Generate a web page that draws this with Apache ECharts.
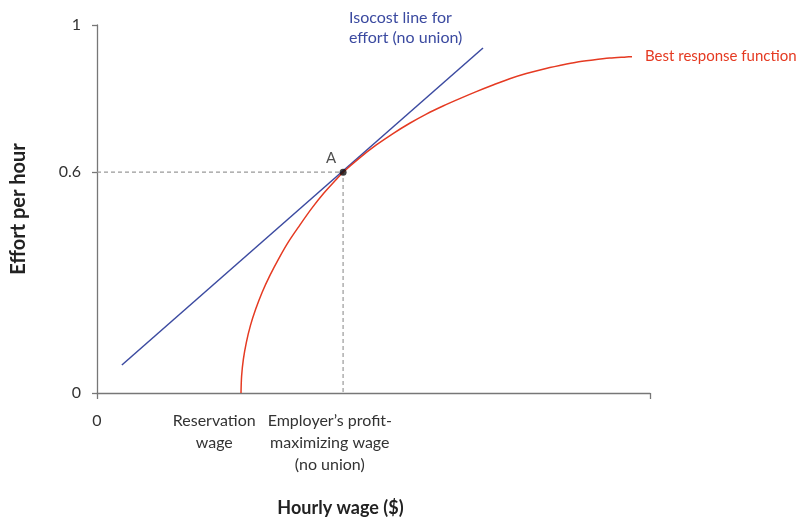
<!DOCTYPE html>
<html>
<head>
<meta charset="utf-8">
<script src="https://cdn.jsdelivr.net/npm/echarts@6/dist/echarts.min.js"></script>
<style>
  html, body { margin: 0; padding: 0; background: #fff; }
  #chart { width: 810px; height: 532px; }
</style>
</head>
<body>
<div id="chart"></div>
<script>
// values (wage scaled 0-100, effort 0-1)
var bestResponse = [
  [26.04, 0], [26.15, 0.046], [26.47, 0.092], [27.0, 0.137], [27.74, 0.183],
  [28.7, 0.228], [29.87, 0.274], [31.25, 0.319], [32.82, 0.364], [34.59, 0.41],
  [36.62, 0.455], [38.79, 0.501], [40.96, 0.542], [43.13, 0.578], [44.5, 0.6],
  [47.5, 0.639], [50.51, 0.674], [53.53, 0.705], [56.55, 0.733], [59.55, 0.758],
  [62.57, 0.78], [65.59, 0.8], [68.59, 0.819], [71.61, 0.837], [74.63, 0.854],
  [77.63, 0.868], [80.65, 0.88], [83.67, 0.89], [86.67, 0.899], [89.69, 0.905],
  [92.71, 0.91], [95.71, 0.913], [96.75, 0.914]
];
var isocost = [[4.5, 0.076], [69.8, 0.9375]];
var pointA = [44.5, 0.6];
var guide = [[0, 0.6], [44.5, 0.6], [44.5, 0]];

var xTickValues = [0, 100];
var xLabelValues = [0, 21.2, 42.1];
var xLabelTexts = ['0', 'Reservation\nwage', 'Employer\u2019s profit-\nmaximizing wage\n(no union)'];
var yTickValues = [0, 0.6, 1];
var yLabelTexts = ['0', '0.6', '1'];

var font = 'Lato, "Noto Sans", sans-serif';
var blue = '#3b4aa0';
var red = '#e53a22';

var myChart = echarts.init(document.getElementById('chart'));
var option = {
  animation: false,
  textStyle: { fontFamily: font },
  grid: { left: 97, right: 160, top: 25, bottom: 139 },
  xAxis: {
    type: 'value',
    min: 0,
    max: 100,
    name: 'Hourly wage ($)',
    nameLocation: 'middle',
    nameGap: 106,
    nameTextStyle: { fontFamily: font, fontSize: 18, fontWeight: 'bold', color: '#222', padding: [0, 66, 0, 0] },
    axisLine: { lineStyle: { color: '#777', width: 1.3 } },
    axisTick: { show: true, customValues: xTickValues, length: 6, lineStyle: { color: '#777', width: 1.3 } },
    axisLabel: {
      customValues: xLabelValues,
      margin: 17,
      fontSize: 16,
      lineHeight: 22,
      color: '#333',
      formatter: function (v) {
        var i = xLabelValues.indexOf(v);
        return i >= 0 ? xLabelTexts[i] : '';
      }
    },
    splitLine: { show: false }
  },
  yAxis: {
    type: 'value',
    min: 0,
    max: 1,
    name: 'Effort per hour',
    nameLocation: 'middle',
    nameGap: 68,
    nameTextStyle: { fontFamily: font, fontSize: 20, fontWeight: 'bold', color: '#222' },
    axisLine: { show: true, lineStyle: { color: '#777', width: 1.3 } },
    axisTick: { show: true, customValues: yTickValues, length: 5, lineStyle: { color: '#777', width: 1.3 } },
    axisLabel: {
      customValues: yTickValues,
      margin: 16,
      fontSize: 16,
      color: '#333',
      formatter: function (v) {
        var i = yTickValues.indexOf(v);
        return i >= 0 ? yLabelTexts[i] : '';
      }
    },
    splitLine: { show: false }
  },
  series: [
    {
      name: 'guide',
      type: 'line',
      data: guide,
      showSymbol: false,
      silent: true,
      lineStyle: { color: '#999', width: 1.2, type: [4, 3] },
      z: 1
    },
    {
      name: 'Isocost line for effort (no union)',
      type: 'line',
      data: isocost,
      showSymbol: false,
      lineStyle: { color: blue, width: 1.5 },
      markPoint: {
        symbol: 'circle',
        symbolSize: 0,
        silent: true,
        data: [{
          coord: isocost[1],
          label: {
            show: true,
            position: 'top',
            distance: 0,
            offset: [-134, 0],
            formatter: 'Isocost line for\neffort (no union)',
            align: 'left',
            fontFamily: font,
            fontSize: 16,
            lineHeight: 20,
            color: blue
          }
        }]
      },
      z: 2
    },
    {
      name: 'Best response function',
      type: 'line',
      data: bestResponse,
      smooth: 0.3,
      showSymbol: false,
      lineStyle: { color: red, width: 1.5 },
      endLabel: {
        show: true,
        formatter: 'Best response function',
        distance: 13,
        fontFamily: font,
        fontSize: 15,
        color: red
      },
      z: 3
    },
    {
      name: 'A',
      type: 'scatter',
      data: [pointA],
      symbolSize: 7,
      itemStyle: { color: '#111' },
      label: {
        show: true,
        formatter: 'A',
        position: 'top',
        offset: [-12, 2],
        fontFamily: font,
        fontSize: 15,
        color: '#222'
      },
      z: 5
    }
  ]
};
myChart.setOption(option);
</script>
</body>
</html>
